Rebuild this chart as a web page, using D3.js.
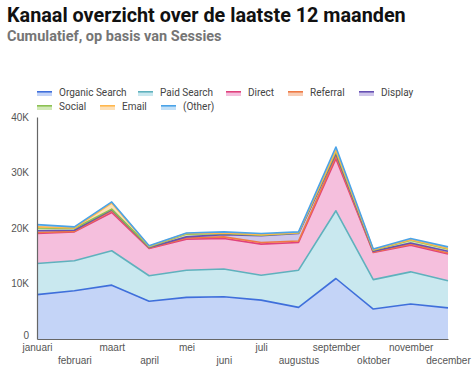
<!DOCTYPE html>
<html>
<head>
<meta charset="utf-8">
<script src="https://cdn.jsdelivr.net/npm/d3@7"></script>
<style>
  body { margin: 0; background: #fff; font-family: Roboto, "Noto Sans", sans-serif; }
  .tick text { fill: #555; font-size: 10px; }
  .legend text { fill: #444; font-size: 10px; }
</style>
</head>
<body>
<div id="chart"></div>
<script>
const width = 474, height = 376;

// Data (thousands of sessions per channel, per month)
const months = ["januari", "februari", "maart", "april", "mei", "juni", "juli",
  "augustus", "september", "oktober", "november", "december"];
const organic  = [8.0, 8.7, 9.7, 6.8, 7.5, 7.6, 7.0, 5.7, 10.9, 5.4, 6.3, 5.6];
const paid     = [5.6, 5.4, 6.2, 4.6, 4.9, 5.0, 4.5, 6.7, 12.2, 5.3, 5.8, 4.9];
const direct   = [5.4, 5.2, 6.9, 4.9, 5.6, 5.5, 5.6, 5.0, 9.4, 4.9, 4.8, 4.8];
const referral = [0.2, 0.1, 0.3, 0.1, 0.2, 0.3, 0.3, 0.25, 0.5, 0.1, 0.2, 0.2];
const display  = [0.3, 0.2, 0.2, 0.1, 0.2, 0.4, 1.2, 1.35, 0.4, 0.1, 0.2, 0.3];
const social   = [0.5, 0.3, 0.1, 0.1, 0.5, 0.2, 0.1, 0.1, 0.3, 0.2, 0.5, 0.4];
const email    = [0.2, 0.1, 1.1, 0.1, 0.1, 0.1, 0.1, 0.05, 0.3, 0.1, 0.1, 0.1];
const other    = [0.4, 0.2, 0.2, 0.1, 0.1, 0.2, 0.2, 0.15, 0.6, 0.1, 0.2, 0.3];
const yTicks = [0, 10, 20, 30, 40];

const series = [
  { key: "Organic Search", values: organic,  line: "#3f6fdb", fill: "#c4d4f7" },
  { key: "Paid Search",    values: paid,     line: "#5fb1bd", fill: "#c9e8ef" },
  { key: "Direct",         values: direct,   line: "#e0427c", fill: "#f5bfdd" },
  { key: "Referral",       values: referral, line: "#ef7a45", fill: "#f8cdb5" },
  { key: "Display",        values: display,  line: "#6650b3", fill: "#cfc6ea" },
  { key: "Social",         values: social,   line: "#8cc152", fill: "#d2e9b8" },
  { key: "Email",          values: email,    line: "#ffb74d", fill: "#fde0b8" },
  { key: "(Other)",        values: other,    line: "#4aa3e8", fill: "#c3e0f7" }
];

const rows = months.map((m, i) => {
  const r = { month: m };
  series.forEach(s => r[s.key] = s.values[i]);
  return r;
});

const margin = { top: 117, right: 26, bottom: 37, left: 37 };
const innerW = width - margin.left - margin.right;
const innerH = height - margin.top - margin.bottom;

const svg = d3.select("#chart").append("svg")
  .attr("width", width)
  .attr("height", height);

// Titles
svg.append("text")
  .attr("x", 7).attr("y", 22)
  .attr("font-size", 19.8).attr("font-weight", 700).attr("fill", "#111")
  .text("Kanaal overzicht over de laatste 12 maanden");
svg.append("text")
  .attr("x", 7).attr("y", 41)
  .attr("font-size", 14.5).attr("font-weight", 700).attr("fill", "#757575")
  .text("Cumulatief, op basis van Sessies");

// Legend
const legendPos = [[37, 93], [138, 93], [226, 93], [288, 93], [359, 93],
                   [37, 107], [100, 107], [161, 107]];
const legend = svg.append("g").attr("class", "legend");
series.forEach((s, i) => {
  const [lx, ly] = legendPos[i];
  const g = legend.append("g").attr("transform", `translate(${lx},${ly})`);
  g.append("rect").attr("x", 0).attr("y", -1).attr("width", 15).attr("height", 4).attr("fill", s.fill);
  g.append("rect").attr("x", 0).attr("y", -2).attr("width", 15).attr("height", 1.6).attr("fill", s.line);
  g.append("text").attr("x", 22).attr("y", 0).attr("dominant-baseline", "middle").text(s.key);
});

const x = d3.scalePoint().domain(months).range([0, innerW]);
const y = d3.scaleLinear().domain([0, 40]).range([innerH, 0]);

const chart = svg.append("g").attr("transform", `translate(${margin.left},${margin.top})`);

const stacked = d3.stack().keys(series.map(s => s.key))(rows);

const area = d3.area()
  .x(d => x(d.data.month))
  .y0(d => y(d[0]))
  .y1(d => y(d[1]));
const line = d3.line()
  .x(d => x(d.data.month))
  .y(d => y(d[1]));

chart.selectAll("path.area")
  .data(stacked)
  .join("path")
    .attr("class", "area")
    .attr("d", area)
    .attr("fill", (d, i) => series[i].fill);

chart.selectAll("path.line")
  .data(stacked)
  .join("path")
    .attr("class", "line")
    .attr("d", line)
    .attr("fill", "none")
    .attr("stroke", (d, i) => series[i].line)
    .attr("stroke-width", 1.6)
    .attr("stroke-linejoin", "round");

// Axes
const yAxis = chart.append("g")
  .call(d3.axisLeft(y).tickValues(yTicks).tickSize(0).tickPadding(8)
    .tickFormat(d => d === 0 ? "0" : d + "K"));
yAxis.select(".domain").attr("stroke", "#666").attr("stroke-width", 1.2);
yAxis.selectAll(".tick text").attr("dy", d => d === 0 ? "-0.1em" : "0.32em");

const xAxis = chart.append("g")
  .attr("transform", `translate(0,${innerH})`)
  .call(d3.axisBottom(x).tickSize(0).tickPadding(5));
xAxis.select(".domain").attr("stroke", "#666").attr("stroke-width", 1.2);
xAxis.selectAll(".tick text")
  .attr("dy", (d, i) => i % 2 === 0 ? "0.71em" : "1.95em");
</script>
</body>
</html>
